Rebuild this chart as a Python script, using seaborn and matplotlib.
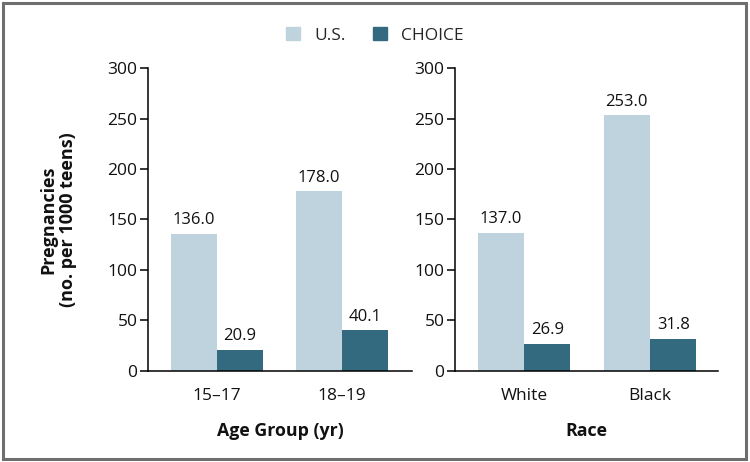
import matplotlib
matplotlib.use("Agg")
import matplotlib.pyplot as plt
import matplotlib.patches as mpatches
import seaborn as sns
import pandas as pd

# Data
series = ["U.S.", "CHOICE"]
age_groups = ["15\u201317", "18\u201319"]
age_us = [136.0, 178.0]
age_choice = [20.9, 40.1]
races = ["White", "Black"]
race_us = [137.0, 253.0]
race_choice = [26.9, 31.8]
yticks = [0, 50, 100, 150, 200, 250, 300]

colors = {"U.S.": "#bed3dd", "CHOICE": "#336a80"}

sns.set_theme(style="white")
plt.rcParams["font.family"] = ["Open Sans", "DejaVu Sans"]

fig = plt.figure(figsize=(7.5, 4.62), dpi=100)
ax1 = fig.add_axes([0.1973, 0.197, 0.352, 0.6558])
ax2 = fig.add_axes([0.6067, 0.197, 0.3507, 0.6558])


def make_df(cats, us, ch):
    rows = []
    for c, a, b in zip(cats, us, ch):
        rows.append({"cat": c, "series": "U.S.", "val": a})
        rows.append({"cat": c, "series": "CHOICE", "val": b})
    return pd.DataFrame(rows)


panels = [
    (ax1, make_df(age_groups, age_us, age_choice), "Age Group (yr)", (-0.552, 1.56)),
    (ax2, make_df(races, race_us, race_choice), "Race", (-0.548, 1.54)),
]

for ax, df, xlabel, xlim in panels:
    sns.barplot(data=df, x="cat", y="val", hue="series", hue_order=series,
                palette=colors, width=0.736, gap=0, ax=ax, legend=False,
                saturation=1, errorbar=None, linewidth=0)
    for cont in ax.containers:
        ax.bar_label(cont, fmt="%.1f", padding=4, fontsize=12, color="#111111")
    ax.set_ylim(0, 300)
    ax.set_xlim(*xlim)
    ax.set_yticks(yticks)
    ax.set_yticklabels([str(t) for t in yticks], fontsize=12.5)
    ax.tick_params(axis="y", which="both", left=True, length=6, width=1.1,
                   color="black", pad=1.5, labelcolor="#111111")
    ax.tick_params(axis="x", bottom=False, labelsize=12.5, pad=6, labelcolor="#111111")
    for s in ["top", "right"]:
        ax.spines[s].set_visible(False)
    for s in ["left", "bottom"]:
        ax.spines[s].set_color("black")
        ax.spines[s].set_linewidth(1.1)
    ax.set_xlabel(xlabel, fontsize=12.8, fontweight="bold", labelpad=13, color="#111111")
    ax.set_ylabel("")
    ax.set_facecolor("white")

ax1.set_ylabel("Pregnancies\n(no. per 1000 teens)", fontsize=13, fontweight="bold",
               labelpad=22, color="#111111", linespacing=1.1)

handles = [mpatches.Patch(color=colors[s], label=s) for s in series]
fig.legend(handles=handles, loc="upper center", bbox_to_anchor=(0.5, 0.975), ncol=2,
           frameon=False, fontsize=12.5, handlelength=0.8, handleheight=0.8,
           handletextpad=0.8, columnspacing=1.6)

border = mpatches.Rectangle((0.004, 0.006), 0.991, 0.988, transform=fig.transFigure,
                            fill=False, edgecolor="#6e6e6e", linewidth=2.2)
fig.patches.append(border)

fig.savefig("out.png", dpi=100, facecolor="white")
